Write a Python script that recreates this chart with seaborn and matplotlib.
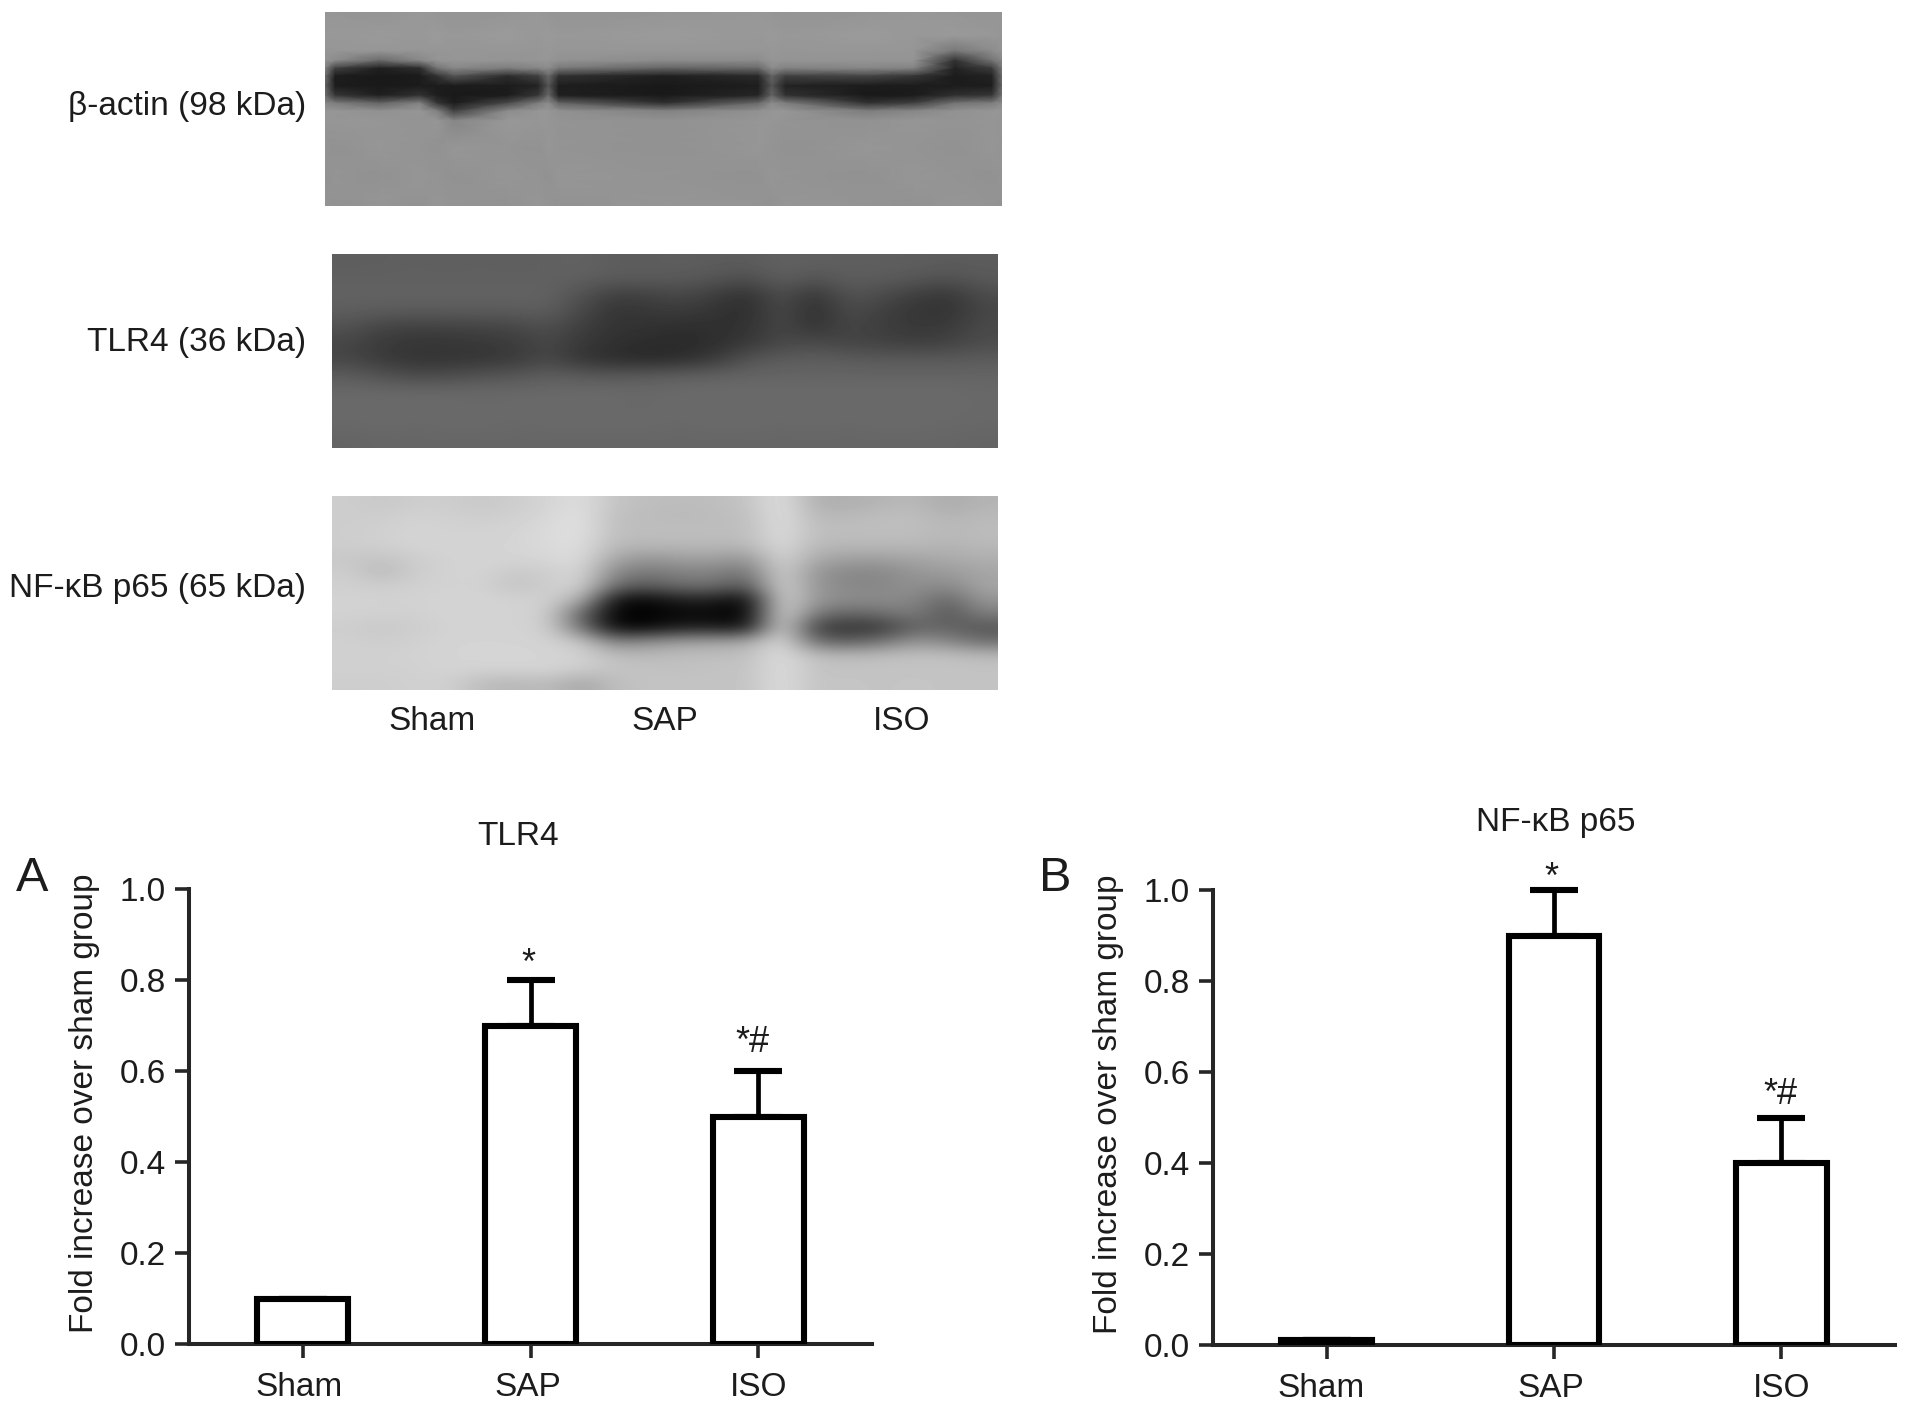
# plot.py
# Western blot panels and two bar charts (TLR4, NF-kB p65)

import matplotlib
matplotlib.use("Agg")
import matplotlib.pyplot as plt
from matplotlib.transforms import ScaledTranslation
import seaborn as sns
import numpy as np
import pandas as pd

groups = ["Sham", "SAP", "ISO"]
tlr4_values = [0.1, 0.7, 0.5]
tlr4_errors = [0.0, 0.1, 0.1]
nfkb_values = [0.01, 0.9, 0.4]
nfkb_errors = [0.0, 0.1, 0.1]
y_ticks = [0.0, 0.2, 0.4, 0.6, 0.8, 1.0]
blot_labels = ["β-actin (98 kDa)", "TLR4 (36 kDa)", "NF-κB p65 (65 kDa)"]

actin_x = [0, .015, .08, .14, .165, .19, .27, .315, .33, .345, .5, .64, .66, .68, .8, .87, .93, .985, 1]
actin_y = [0, .12, .2, .25, .29, .33, .38, .43, .47, .51, .56, .7, .85, 1]
actin_columns = [
    [150, 152, 150, 148, 130, 110, 100, 110, 135, 150, 150, 148, 146, 148],
    [150, 152, 150, 140, 65, 30, 28, 55, 125, 150, 150, 146, 148, 146],
    [148, 154, 150, 105, 32, 25, 25, 32, 100, 145, 150, 150, 146, 150],
    [152, 152, 150, 135, 45, 28, 28, 50, 130, 150, 148, 148, 150, 146],
    [150, 155, 150, 148, 115, 50, 28, 30, 55, 130, 150, 146, 148, 150],
    [148, 152, 150, 150, 135, 85, 28, 25, 28, 65, 135, 150, 146, 148],
    [150, 155, 150, 148, 125, 45, 28, 28, 75, 140, 152, 148, 150, 146],
    [152, 152, 150, 150, 135, 65, 35, 55, 125, 150, 150, 146, 148, 150],
    [150, 154, 152, 150, 140, 105, 85, 105, 140, 150, 150, 150, 146, 148],
    [148, 152, 150, 146, 120, 50, 30, 32, 100, 145, 148, 148, 150, 146],
    [150, 155, 150, 140, 100, 32, 25, 25, 48, 130, 146, 146, 148, 150],
    [152, 152, 150, 140, 105, 42, 30, 38, 105, 145, 150, 150, 146, 148],
    [150, 154, 152, 150, 140, 100, 85, 100, 140, 150, 150, 148, 150, 146],
    [148, 152, 150, 148, 130, 65, 35, 50, 125, 150, 148, 146, 148, 150],
    [150, 155, 150, 148, 135, 70, 28, 25, 50, 125, 146, 150, 146, 148],
    [152, 152, 150, 148, 130, 55, 28, 28, 65, 135, 150, 148, 150, 146],
    [150, 154, 120, 50, 35, 28, 28, 48, 115, 146, 148, 146, 148, 150],
    [148, 152, 140, 115, 60, 35, 30, 55, 125, 150, 150, 150, 146, 148],
    [150, 150, 148, 135, 120, 110, 105, 115, 140, 150, 148, 148, 148, 146],
]
tlr4_grey = [
    [94, 94, 96, 94, 96, 94, 96, 98, 92, 92, 94, 92, 92, 96, 96, 94, 94, 94, 92, 92],
    [96, 96, 96, 96, 96, 96, 96, 96, 92, 92, 90, 86, 78, 96, 84, 94, 92, 88, 82, 90],
    [98, 98, 98, 98, 98, 98, 98, 82, 62, 66, 72, 62, 48, 80, 52, 84, 76, 62, 54, 76],
    [94, 92, 92, 92, 92, 92, 94, 72, 52, 56, 60, 52, 44, 76, 44, 76, 64, 54, 50, 70],
    [82, 68, 64, 66, 68, 70, 80, 62, 52, 50, 46, 48, 50, 72, 50, 70, 62, 56, 58, 74],
    [70, 58, 54, 54, 56, 60, 72, 56, 48, 44, 42, 46, 56, 72, 74, 68, 66, 62, 66, 76],
    [70, 58, 52, 52, 54, 58, 72, 52, 44, 40, 44, 58, 84, 92, 94, 92, 90, 90, 90, 92],
    [92, 82, 74, 76, 82, 86, 94, 90, 88, 92, 96, 98, 100, 100, 100, 100, 100, 100, 100, 100],
    [104, 104, 104, 104, 104, 104, 104, 106, 106, 104, 106, 106, 106, 106, 106, 106, 106, 106, 106, 104],
    [106, 106, 106, 106, 104, 106, 106, 106, 104, 104, 106, 106, 106, 106, 106, 106, 106, 106, 106, 104],
    [104, 106, 104, 106, 106, 104, 106, 106, 106, 106, 104, 106, 106, 104, 106, 104, 106, 106, 104, 104],
    [100, 102, 102, 102, 102, 102, 102, 102, 102, 102, 102, 102, 102, 102, 102, 102, 102, 102, 102, 100],
]
nfkb_grey = [
    [205, 200, 205, 205, 200, 205, 212, 222, 195, 190, 188, 190, 195, 225, 175, 175, 180, 185, 170, 180],
    [205, 205, 210, 208, 205, 208, 215, 225, 190, 188, 185, 188, 190, 225, 185, 185, 190, 190, 180, 185],
    [205, 208, 212, 210, 210, 212, 218, 225, 190, 190, 190, 190, 190, 222, 190, 190, 190, 190, 185, 188],
    [205, 208, 212, 212, 212, 212, 218, 222, 185, 185, 185, 185, 185, 220, 185, 185, 185, 185, 180, 185],
    [200, 195, 205, 210, 212, 212, 215, 220, 165, 150, 160, 160, 150, 215, 170, 160, 160, 165, 170, 175],
    [205, 185, 205, 210, 212, 200, 205, 215, 135, 120, 130, 130, 115, 212, 150, 135, 135, 150, 155, 165],
    [208, 205, 208, 210, 210, 195, 205, 212, 105, 90, 110, 110, 85, 215, 150, 135, 135, 145, 135, 165],
    [210, 210, 210, 212, 212, 210, 208, 175, 15, 6, 30, 28, 6, 218, 150, 140, 140, 135, 100, 150],
    [210, 208, 208, 212, 212, 210, 208, 100, 2, 2, 8, 8, 2, 222, 120, 100, 110, 125, 85, 125],
    [205, 200, 205, 210, 212, 210, 208, 115, 8, 8, 30, 28, 20, 222, 62, 50, 55, 100, 100, 85],
    [208, 205, 208, 212, 212, 212, 210, 200, 130, 145, 160, 165, 170, 222, 110, 95, 115, 150, 135, 110],
    [208, 208, 210, 212, 214, 214, 212, 210, 190, 185, 190, 190, 192, 222, 190, 185, 190, 192, 192, 185],
    [208, 208, 208, 212, 210, 212, 212, 205, 195, 195, 192, 195, 195, 222, 195, 195, 195, 195, 195, 195],
    [205, 205, 208, 208, 188, 182, 188, 165, 190, 195, 195, 195, 195, 222, 195, 198, 195, 198, 195, 195],
]

FIG_W, FIG_H = 1913, 1412

sns.set_theme(style="ticks")
plt.rcParams["font.family"] = ["Liberation Sans", "DejaVu Sans"]
text_color = "#1c1c1c"
font_size = 24

fig = plt.figure(figsize=(FIG_W / 100, FIG_H / 100), dpi=100)


def add_axes_px(left, top, right, bottom):
    return fig.add_axes([left / FIG_W, 1 - bottom / FIG_H, (right - left) / FIG_W, (bottom - top) / FIG_H])


def text_px(x, y, s, **kw):
    kw.setdefault("color", text_color)
    fig.text(x / FIG_W, 1 - y / FIG_H, s, **kw)


def draw_blot(grey, box):
    ax = add_axes_px(*box)
    ax.imshow(np.array(grey), cmap="gray", vmin=0, vmax=255, aspect="auto", interpolation="bicubic")
    ax.axis("off")


def draw_blot_sampled(columns, xs, ys, box):
    ax = add_axes_px(*box)
    ax.pcolormesh(xs, ys, np.array(columns).T, cmap="gray", vmin=0, vmax=255, shading="gouraud")
    ax.set_xlim(0, 1)
    ax.set_ylim(1, 0)
    ax.axis("off")


def draw_bars(values, errors, box, title, title_pos, letter, letter_pos, marks, label_shift):
    ax = add_axes_px(*box)
    df = pd.DataFrame({"group": groups, "value": values})
    sns.barplot(data=df, x="group", y="value", color="white", width=0.40,
                edgecolor="black", linewidth=4.4, saturation=1, ax=ax, zorder=3)
    ax.errorbar(range(len(groups)), values, yerr=[np.zeros(len(errors)), errors],
                fmt="none", ecolor="black", elinewidth=3.4, capsize=17.5, capthick=4.4,
                clip_on=False, zorder=2)
    ax.set_xlim(-0.5, 2.5)
    ax.set_ylim(0, 1.0)
    ax.set_yticks(y_ticks)
    ax.set_yticklabels([f"{t:.1f}" for t in y_ticks])
    ax.set_xlabel("")
    ax.set_ylabel("Fold increase over sham group", fontsize=font_size, color=text_color, labelpad=14.5, y=0.53)
    sns.despine(ax=ax)
    for side in ["left", "bottom"]:
        ax.spines[side].set_linewidth(2.9)
    ax.tick_params(axis="both", length=10, width=2.6, labelsize=font_size, labelcolor=text_color)
    ax.tick_params(axis="x", pad=10)
    ax.tick_params(axis="y", pad=6.5)
    for lab, dx in zip(ax.get_xticklabels(), label_shift):
        lab.set_transform(lab.get_transform() + ScaledTranslation(dx / 72, 0, fig.dpi_scale_trans))
    for x, y, s in marks:
        ax.text(x, y, s, ha="center", va="center", fontsize=font_size + 2, color=text_color)
    text_px(*title_pos, title, ha="center", va="center", fontsize=font_size)
    text_px(*letter_pos, letter, ha="center", va="center", fontsize=35)


# blots
draw_blot_sampled(actin_columns, actin_x, actin_y, (325, 12, 1002, 206))
draw_blot(tlr4_grey, (332, 254, 998, 448))
draw_blot(nfkb_grey, (332, 496, 998, 690))
for s, y in zip(blot_labels, [107, 342, 588]):
    text_px(306, y, s, ha="right", va="center", fontsize=font_size)
for s, x in zip(groups, [432, 665, 902]):
    text_px(x, 721, s, ha="center", va="center", fontsize=font_size)

# bar charts
draw_bars(tlr4_values, tlr4_errors, (189, 889, 872, 1344), "TLR4", (518, 837), "A", (32, 878),
          [(0.99, 0.835, "*"), (1.975, 0.662, "*#")], [-3, -2, 0])
draw_bars(nfkb_values, nfkb_errors, (1213, 890, 1895, 1345), "NF-κB p65", (1556, 822), "B", (1055, 878),
          [(0.99, 1.026, "*"), (1.995, 0.55, "*#")], [-4, -2, 0])

fig.savefig("out.png", dpi=100, facecolor="white")
